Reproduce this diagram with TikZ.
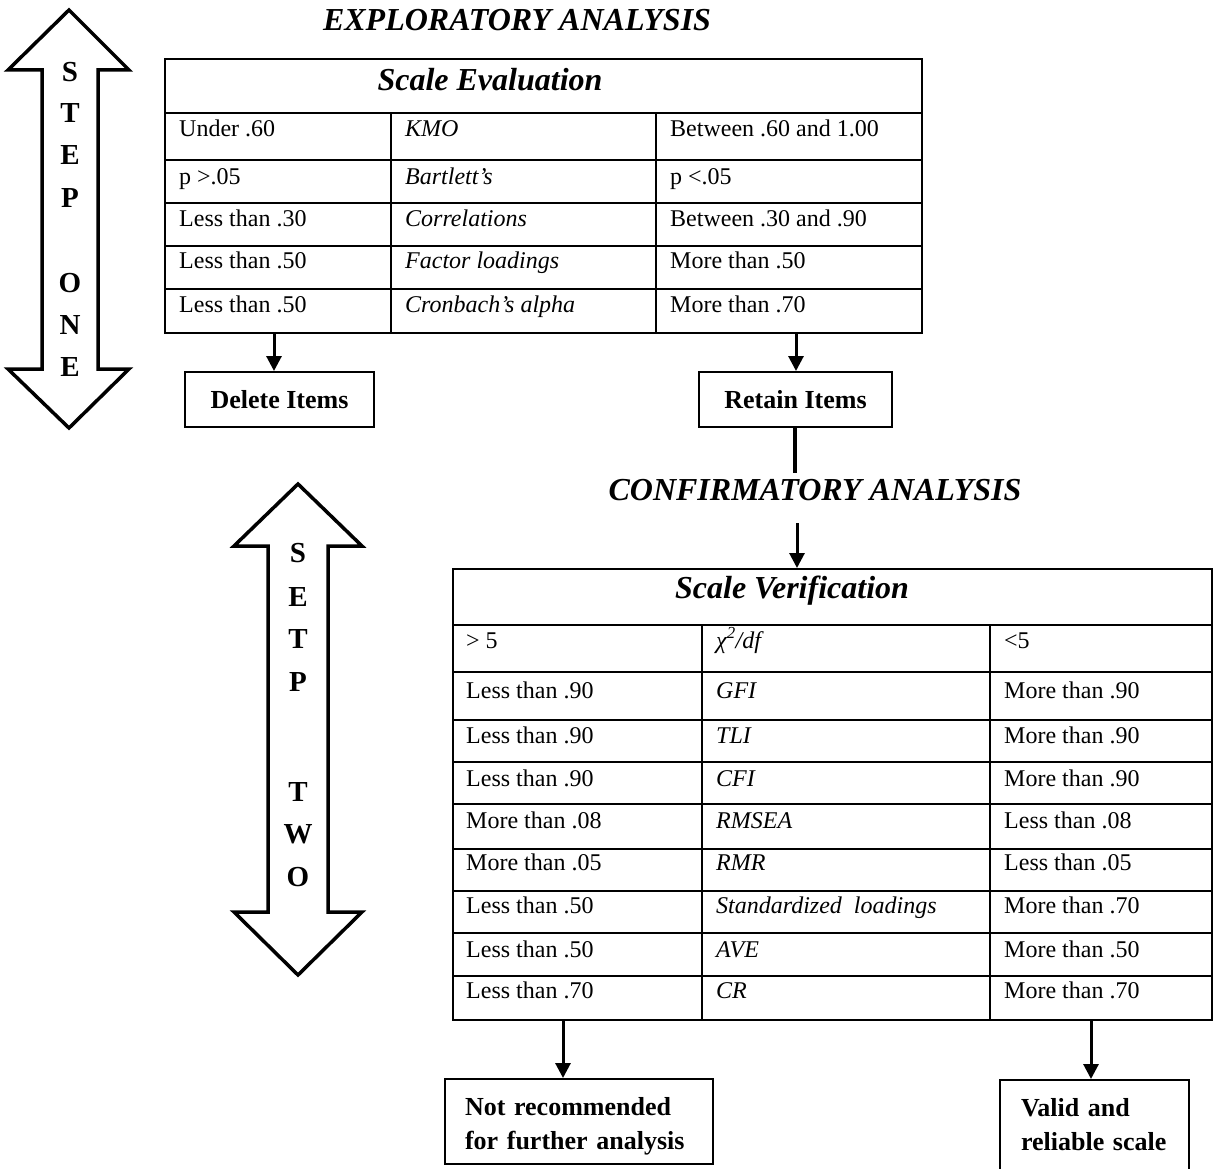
\documentclass[tikz,border=0pt]{standalone}
\usepackage{fontspec}
\setmainfont{Liberation Serif}
\usetikzlibrary{arrows.meta}
\begin{document}
\begin{tikzpicture}[x=1pt,y=-1pt,
  rule/.style={line width=2pt},
  frame/.style={draw, line width=2pt, inner sep=0pt},
  cell/.style={anchor=base west, inner sep=0pt, font=\fontsize{24}{28}\selectfont},
  cellit/.style={cell, font=\fontsize{24}{28}\selectfont\itshape},
  heading/.style={anchor=base, inner sep=0pt, font=\fontsize{32}{36}\selectfont\bfseries\itshape},
  outcome/.style={draw, line width=2pt, font=\fontsize{26}{34}\selectfont\bfseries},
  flow/.style={line width=3pt, -{Triangle[length=15pt,width=15pt]}},
  bigarrow/.style={draw, line width=3.5pt, line join=miter},
  letter/.style={inner sep=0pt, font=\fontsize{29}{32}\selectfont\bfseries}
]
\useasboundingbox (0,0) rectangle (1213,1169);

% ---- double-headed arrows marking the two steps
\draw[bigarrow] (69,10) -- (129,70) -- (98,70) -- (98,369) -- (129,369) -- (69,428)
  -- (8,369) -- (42,369) -- (42,70) -- (8,70) -- cycle;
\foreach \l/\y [count=\i] in {S/72,T/113,E/155,P/198,O/283,N/325,E/367}
  \node[letter] (one\i) at (70,\y) {\l};

\draw[bigarrow] (298,484) -- (362,546) -- (328,546) -- (328,912) -- (362,912) -- (298,975)
  -- (234,912) -- (268,912) -- (268,546) -- (234,546) -- cycle;
\foreach \l/\y [count=\i] in {S/553,E/597,T/639,P/682,T/792,W/834,O/877}
  \node[letter] (two\i) at (298,\y) {\l};

% ---- exploratory part
\node[heading] (explor) at (517,31) {EXPLORATORY ANALYSIS};

\node[frame, anchor=north west, minimum width=757pt, minimum height=274pt] (evalT) at (164,58) {};
\node[heading] (evtitle) at (490,91) {Scale Evaluation};
\foreach \y in {113,160,203,246,289} \draw[rule] (164,\y) -- (921,\y);
\draw[rule] (391,113) -- (391,332);
\draw[rule] (656,113) -- (656,332);

\foreach \b/\p/\q/\r [count=\i] in {
    137/Under .60/KMO/Between .60 and 1.00,
    185/p >.05/Bartlett’s/p <.05,
    227/Less than .30/Correlations/Between .30 and .90,
    269/Less than .50/Factor loadings/More than .50,
    312/Less than .50/Cronbach’s alpha/More than .70}{
  \node[cell]   (ev\i a) at (179,\b) {\p};
  \node[cellit] (ev\i b) at (405,\b) {\q};
  \node[cell]   (ev\i c) at (670,\b) {\r};
}

\node[outcome, minimum width=189pt, minimum height=55pt, inner sep=0pt] (delete) at (279.5,399.5) {Delete Items};
\node[outcome, minimum width=193pt, minimum height=55pt, inner sep=0pt] (retain) at (795.5,399.5) {Retain Items};

\coordinate (dStart) at (274,332);
\draw[flow] (dStart) -- (dStart |- delete.north);
\coordinate (rStart) at (796,332);
\draw[flow] (rStart) -- (rStart |- retain.north);

% ---- confirmatory part
\node[heading] (confirm) at (815,500) {CONFIRMATORY ANALYSIS};
\coordinate (cEnd) at (795,473);
\draw[line width=4pt] (retain.south -| cEnd) -- (cEnd);

\node[frame, anchor=north west, minimum width=759pt, minimum height=451pt] (verT) at (452,568) {};
\node[heading] (vertitle) at (792,598) {Scale Verification};
\foreach \y in {625,672,720,762,804,849,891,933,976} \draw[rule] (452,\y) -- (1211,\y);
\draw[rule] (702,625) -- (702,1019);
\draw[rule] (990,625) -- (990,1019);

\coordinate (vStart) at (797,523);
\draw[flow] (vStart) -- (vStart |- verT.north);

\foreach \b/\p/\q/\r [count=\i] in {
    648/> 5/{χ\textsuperscript{2}/df}/<5,
    698/Less than .90/GFI/More than .90,
    743/Less than .90/TLI/More than .90,
    786/Less than .90/CFI/More than .90,
    828/More than .08/RMSEA/Less than .08,
    870/More than .05/RMR/Less than .05,
    913/Less than .50/Standardized\ \ loadings/More than .70,
    957/Less than .50/AVE/More than .50,
    998/Less than .70/CR/More than .70}{
  \node[cell]   (cf\i a) at (466,\b) {\p};
  \node[cellit] (cf\i b) at (716,\b) {\q};
  \node[cell]   (cf\i c) at (1004,\b) {\r};
}

\node[outcome, anchor=north west, minimum width=268pt, minimum height=85pt,
      text width=228pt, inner xsep=20pt, inner ysep=0pt, align=left,
      text height=18pt, text depth=31pt]
  (reject) at (444,1078) {Not recommended\\for further analysis};
\node[outcome, anchor=north west, minimum width=189pt, minimum height=100pt,
      text width=147pt, inner xsep=21pt, inner ysep=0pt, align=left,
      text height=18pt, text depth=46pt]
  (valid) at (999,1079) {Valid and\\reliable scale};

\coordinate (nStart) at (563,1019);
\draw[flow] (nStart) -- (nStart |- reject.north);
\coordinate (gStart) at (1091,1019);
\draw[flow] (gStart) -- (gStart |- valid.north);
\end{tikzpicture}
\end{document}
